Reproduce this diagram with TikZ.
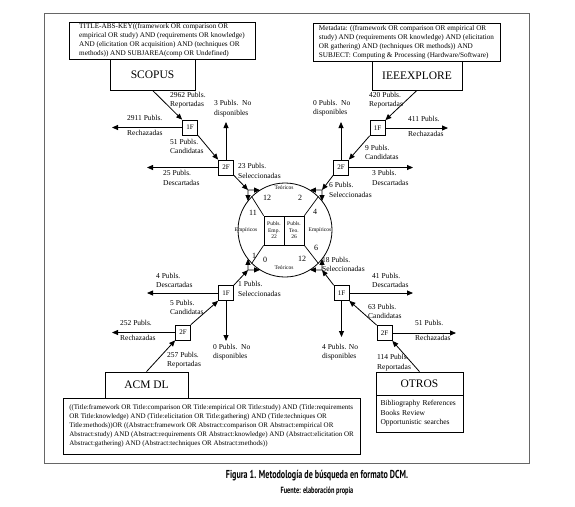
\documentclass[tikz,border=0pt]{standalone}
\usepackage{fontspec}
\setmainfont{Liberation Serif}
\newfontfamily\capfont[FakeStretch=0.7]{PT Sans}
\usetikzlibrary{arrows.meta,calc}
\tikzset{
  qbox/.style={draw, line width=0.7pt, align=left, inner sep=0pt, font=\fontsize{7.2}{9}\selectfont},
  lbox/.style={draw, line width=0.7pt, inner sep=0pt, font=\fontsize{11.5}{12}\selectfont},
  fbox/.style={draw, line width=0.7pt, minimum width=15pt, minimum height=15pt, inner sep=0pt, font=\fontsize{7}{8}\selectfont},
  lbl/.style={inner sep=0pt, align=left, anchor=west, font=\fontsize{7.5}{9.5}\selectfont},
  tiny/.style={inner sep=0pt, font=\fontsize{5.5}{6.5}\selectfont},
  num/.style={inner sep=0pt, font=\fontsize{8}{9}\selectfont},
  arr/.style={-{Triangle[length=6pt,width=5pt]}, line width=0.8pt},
  ln/.style={line width=0.7pt},
}
\begin{document}
\begin{tikzpicture}[x=1pt,y=-1pt]
\useasboundingbox (0,0) rectangle (575,506);
\draw[black!60, line width=0.8pt] (44,13) rectangle (529,463);

% SCOPUS
\node[qbox, minimum width=186pt, minimum height=37pt] (sq) at (162,40.5) {TITLE-ABS-KEY((framework OR comparison OR\\empirical OR study) AND (requirements OR knowledge)\\AND (elicitation OR acquisition) AND (techniques OR\\methods)) AND SUBJAREA(comp OR Undefined)};
\node[lbox, minimum width=85pt, minimum height=31pt] (sc) at (152.5,74.5) {SCOPUS};
\node[fbox] (s1) at (190,127.5) {1F};
\node[fbox] (s2) at (226,167.5) {2F};

% IEEE
\node[qbox, minimum width=187pt, minimum height=38pt] (iq) at (406.5,42) {Metadata: ((framework OR comparison OR empirical OR\\study) AND (requirements OR knowledge) AND (elicitation\\OR gathering) AND (techniques OR methods)) AND\\SUBJECT: Computing \& Processing (Hardware/Software)};
\node[lbox, minimum width=90pt, minimum height=29pt] (ie) at (417,75.5) {IEEEXPLORE};
\node[fbox] (i1) at (377.5,128) {1F};
\node[fbox] (i2) at (341,167.5) {2F};

% ACM
\node[lbox, minimum width=83pt, minimum height=26pt] (ac) at (146.5,385) {ACM DL};
\node[qbox, minimum width=297pt, minimum height=56pt, font=\fontsize{7}{9}\selectfont] (aq) at (211.5,426) {((Title:framework OR Title:comparison OR Title:empirical OR Title:study) AND (Title:requirements\\OR Title:knowledge) AND (Title:elicitation OR Title:gathering) AND (Title:techniques OR\\Title:methods))OR ((Abstract:framework OR Abstract:comparison OR Abstract:empirical OR\\Abstract:study) AND (Abstract:requirements OR Abstract:knowledge) AND (Abstract:elicitation OR\\Abstract:gathering) AND (Abstract:techniques OR Abstract:methods))};
\node[fbox] (a1) at (226,293) {1F};
\node[fbox] (a2) at (183,332.5) {2F};

% OTROS
\node[lbox, minimum width=87pt, minimum height=23pt] (ot) at (419.5,383.5) {OTROS};
\node[qbox, minimum width=87pt, minimum height=37pt, text width=78pt, font=\fontsize{7.5}{9.5}\selectfont] (ob) at (419.5,413.5) {Bibliography References\\Books Review\\Opportunistic searches};
\node[fbox] (o1) at (341.5,293) {1F};
\node[fbox] (o2) at (384.5,333) {2F};

% circle
\node[draw, circle, minimum size=94pt, inner sep=0pt, outer sep=0pt, line width=0.8pt] (circ) at (285,230) {};
\node[draw, ln, minimum width=20pt, minimum height=29pt, inner sep=0pt, align=center, tiny] (emp) at (274,230.5) {Publs.\\Emp.\\22};
\node[draw, ln, minimum width=20pt, minimum height=29pt, inner sep=0pt, align=center, tiny] (teo) at (294,230.5) {Publs.\\Teo.\\26};
\draw[ln] (emp.north west) -- (circ.135);
\draw[ln] (teo.north east) -- (circ.45);
\draw[ln] (emp.south west) -- (circ.225);
\draw[ln] (teo.south east) -- (circ.315);
\node[tiny] (tt) at (284,188) {Teóricos};
\node[tiny] (tb) at (284,268) {Teóricos};
\node[tiny] (el) at (246,230) {Empíricos};
\node[tiny] (er) at (320,230) {Empíricos};
\node[num] (n1) at (267,198) {12};
\node[num] (n2) at (300,198) {2};
\node[num] (n3) at (253,213) {11};
\node[num] (n4) at (315,212) {4};
\node[num] (n5) at (254,256) {1};
\node[num] (n6) at (265,260) {0};
\node[num] (n7) at (302,259) {12};
\node[num] (n8) at (316,248) {6};

% coordinates
\coordinate (ctl) at (248,190);
\coordinate (ctr) at (322,190);
\coordinate (cbl) at (248,270);
\coordinate (cbr) at (322,270);
\coordinate (e1) at (112,127.5);
\coordinate (e2) at (226,122);
\coordinate (e3) at (147,167.5);
\coordinate (f1) at (448,128);
\coordinate (f2) at (341,122);
\coordinate (f3) at (413,167.5);
\coordinate (g1) at (112,332.5);
\coordinate (g2) at (226,341);
\coordinate (g3) at (147,293);
\coordinate (h1) at (456,333);
\coordinate (h2) at (341.5,337);
\coordinate (h3) at (413,293);

% SCOPUS arrows
\draw[arr] (sc.south) -- (s1.north west);
\draw[arr] (s1.west) -- (e1);
\draw[arr] (s1.south east) -- (s2.north west);
\draw[arr] (s2.north) -- (e2);
\draw[arr] (s2.west) -- (e3);
\draw[arr] (s2.south east) -- (ctl);
% IEEE arrows
\draw[arr] (ie.south) -- (i1.north east);
\draw[arr] (i1.east) -- (f1);
\draw[arr] (i1.south west) -- (i2.north east);
\draw[arr] (i2.north) -- (f2);
\draw[arr] (i2.east) -- (f3);
\draw[arr] (i2.south west) -- (ctr);
% ACM arrows
\draw[arr] (ac.north) -- (a2.south west);
\draw[arr] (a2.west) -- (g1);
\draw[arr] (a2.north east) -- (a1.south west);
\draw[arr] (a1.south) -- (g2);
\draw[arr] (a1.west) -- (g3);
\draw[arr] (a1.north east) -- (cbl);
% OTROS arrows
\draw[arr] (ot.north) -- (o2.south east);
\draw[arr] (o2.east) -- (h1);
\draw[arr] (o2.north west) -- (o1.south east);
\draw[arr] (o1.south) -- (h2);
\draw[arr] (o1.east) -- (h3);
\draw[arr] (o1.north west) -- (cbr);
% corners to circle
\draw[arr] (ctl) -- (circ.122);
\draw[arr] (ctl) -- (circ.142);
\draw[arr] (ctr) -- (circ.58);
\draw[arr] (ctr) -- (circ.38);
\draw[arr] (cbl) -- (circ.-122);
\draw[arr] (cbl) -- (circ.-142);
\draw[arr] (cbr) -- (circ.-58);
\draw[arr] (cbr) -- (circ.-38);

% labels SCOPUS
\node[lbl] (l1) at (170,100) {2962 Publs.\\Reportadas};
\node[lbl] (l2) at (127,125.5) {2911 Publs.\\[5.5pt]Rechazadas};
\node[lbl] (l3) at (214,108.5) {3 Publs.\ \ No\\disponibles};
\node[lbl] (l4) at (170,146.5) {51 Publs.\\Candidatas};
\node[lbl] (l5) at (163,178) {25 Publs.\\Descartadas};
\node[lbl] (l6) at (238,171) {23 Publs.\\Seleccionadas};
% labels IEEE
\node[lbl] (m1) at (369,100) {420 Publs.\\Reportadas};
\node[lbl] (m2) at (408,126) {411 Publs.\\[5.5pt]Rechazadas};
\node[lbl] (m3) at (313,108) {0 Publs.\ \ No\\disponibles};
\node[lbl] (m4) at (365,152.5) {9 Publs.\\Candidatas};
\node[lbl] (m5) at (372,178) {3 Publs.\\Descartadas};
\node[lbl] (m6) at (329,190) {6 Publs.\\Seleccionadas};
% labels ACM
\node[lbl] (p1) at (156,280.5) {4 Publs.\\Descartadas};
\node[lbl] (p2) at (238,289) {1 Publs.\\Seleccionadas};
\node[lbl] (p3) at (170,307.5) {5 Publs.\\Candidatas};
\node[lbl] (p4) at (120,330) {252 Publs.\\[5.5pt]Rechazadas};
\node[lbl] (p5) at (213,352) {0 Publs.\ \ No\\disponibles};
\node[lbl] (p6) at (167,360) {257 Publs.\\Reportadas};
% labels OTROS
\node[lbl] (q1) at (322,264.5) {18 Publs.\\Seleccionadas};
\node[lbl] (q2) at (372,280.5) {41 Publs.\\Descartadas};
\node[lbl] (q3) at (368,311.5) {63 Publs.\\Candidatas};
\node[lbl] (q4) at (322,352) {4 Publs. No\\disponibles};
\node[lbl] (q5) at (415,330) {51 Publs.\\[5.5pt]Rechazadas};
\node[lbl] (q6) at (377,362.5) {114 Publs.\\Reportadas};

% caption
\node[inner sep=0pt, font=\capfont\bfseries\fontsize{11.5}{13}\selectfont] (cap1) at (317,476) {Figura 1. Metodología de búsqueda en formato DCM.};
\node[inner sep=0pt, font=\capfont\bfseries\fontsize{9}{10}\selectfont] (cap2) at (317,491) {Fuente: elaboración propia};
\end{tikzpicture}
\end{document}
